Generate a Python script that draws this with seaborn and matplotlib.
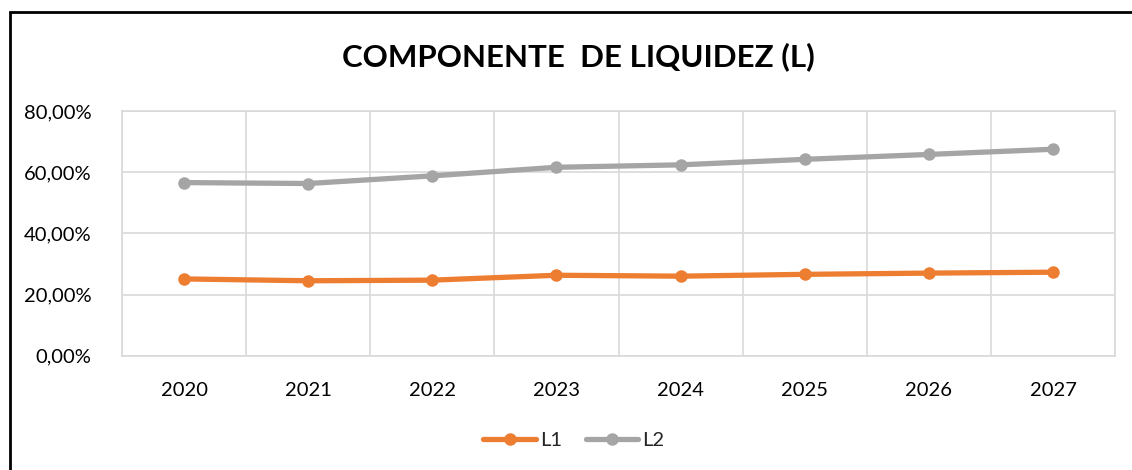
import pandas as pd
import matplotlib

matplotlib.use("Agg")
import matplotlib.pyplot as plt
import seaborn as sns
from matplotlib.patches import Rectangle
from matplotlib.ticker import FuncFormatter, FixedLocator

# Datos
anios = ["2020", "2021", "2022", "2023", "2024", "2025", "2026", "2027"]
l1 = [25.1, 24.5, 24.7, 26.3, 26.0, 26.6, 27.0, 27.3]
l2 = [56.6, 56.3, 58.8, 61.6, 62.4, 64.2, 65.8, 67.5]
series = ["L1", "L2"]
colores = ["#ED7D31", "#A5A5A5"]

df = pd.DataFrame({
    "idx": list(range(len(anios))) * 2,
    "valor": l1 + l2,
    "serie": [series[0]] * len(anios) + [series[1]] * len(anios),
})

sns.set_style("white")
plt.rcParams["font.family"] = ["Lato", "DejaVu Sans"]

fig = plt.figure(figsize=(11.32, 4.70), dpi=100)
ax = fig.add_axes([0.1078, 0.2432, 0.8772, 0.5206])

sns.lineplot(
    data=df, x="idx", y="valor", hue="serie", palette=colores,
    marker="o", markersize=9, linewidth=3.8, markeredgewidth=0, ax=ax,
)

ax.set_xlim(-0.5, len(anios) - 0.5)
ax.set_ylim(0, 80)
ax.set_yticks([0, 20, 40, 60, 80])
ax.yaxis.set_major_formatter(FuncFormatter(lambda v, p: f"{v:.2f}%".replace(".", ",")))
ax.set_xticks(range(len(anios)))
ax.set_xticklabels(anios)
ax.xaxis.set_minor_locator(FixedLocator([i + 0.5 for i in range(-1, len(anios))]))
ax.grid(axis="y", which="major", color="#D9D9D9", linewidth=1.2)
ax.grid(axis="x", which="minor", color="#D9D9D9", linewidth=1.2)
ax.grid(axis="x", which="major", visible=False)
ax.tick_params(axis="both", which="both", length=0)
ax.tick_params(axis="y", pad=22, labelsize=14.5, labelcolor="black")
ax.tick_params(axis="x", pad=19, labelsize=14.5, labelcolor="black")
for s in ax.spines.values():
    s.set_color("#D9D9D9")
    s.set_linewidth(1.2)
ax.set_xlabel("")
ax.set_ylabel("")

handles, labels = ax.get_legend_handles_labels()
ax.legend(
    handles, labels, loc="center", bbox_to_anchor=(0.507, 30 / 470),
    bbox_transform=fig.transFigure, ncol=2, frameon=False, fontsize=14.5,
    handlelength=2.6, handletextpad=0.2, columnspacing=1.2,
)

fig.text(0.511, 1 - 57 / 470, "COMPONENTE  DE LIQUIDEZ (L)", ha="center", va="center",
         fontsize=22.5, fontweight="bold", color="black")

# Marco
fig.patches.append(Rectangle((10 / 1132, -0.05), 1.1, 1 - 12 / 470 + 0.05,
                             transform=fig.transFigure, fill=False,
                             edgecolor="black", linewidth=2))

fig.savefig("out.png", dpi=100)
plt.close()
